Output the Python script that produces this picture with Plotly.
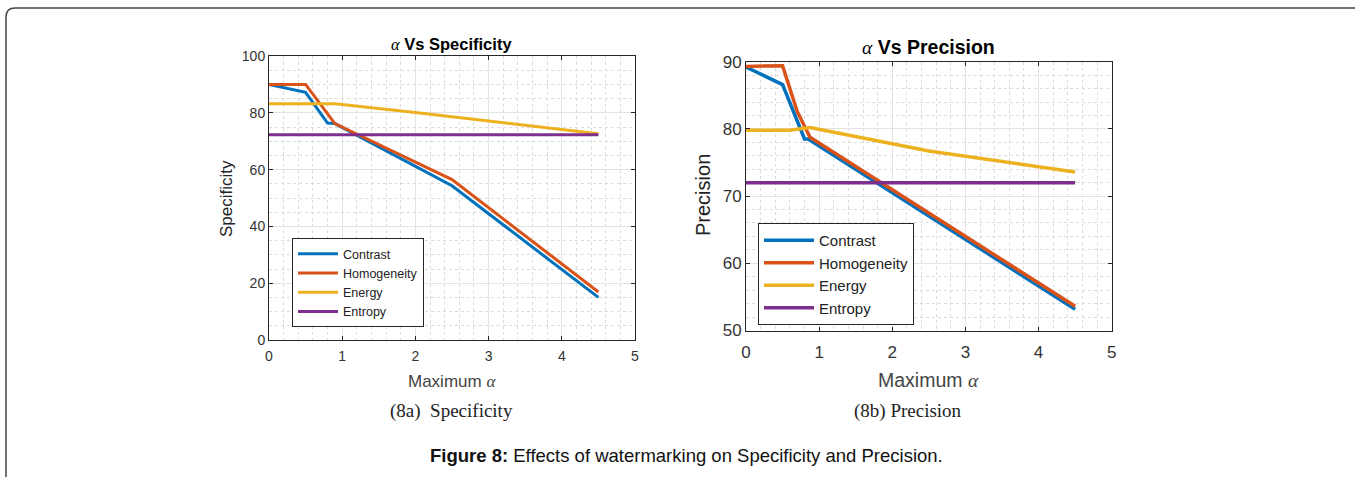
import plotly.graph_objects as go

W, H = 1355, 477

# ---- data: left panel (alpha vs Specificity)
spec_contrast_x = [0, 0.5, 0.7, 0.8, 0.9, 2.5, 4.5]
spec_contrast_y = [90, 87.2, 80, 76.4, 76.2, 54.3, 15.0]
spec_homog_x = [0, 0.5, 0.9, 2.5, 4.5]
spec_homog_y = [90, 90, 76.2, 56.5, 16.9]
spec_energy_x = [0, 0.9, 2, 3, 4, 4.5]
spec_energy_y = [83.2, 83.2, 80.1, 77.2, 74.3, 72.6]
spec_entropy_x = [0, 4.5]
spec_entropy_y = [72.3, 72.3]

# ---- data: right panel (alpha vs Precision)
prec_contrast_x = [0, 0.5, 0.8, 0.85, 4.5]
prec_contrast_y = [89.2, 86.6, 78.5, 78.5, 53.15]
prec_homog_x = [0, 0.5, 0.7, 0.875, 4.5]
prec_homog_y = [89.3, 89.4, 82.6, 78.75, 53.6]
prec_energy_x = [0, 0.6, 0.875, 1.5, 2.5, 4.5]
prec_energy_y = [79.8, 79.8, 80.2, 78.9, 76.7, 73.6]
prec_entropy_x = [0, 4.5]
prec_entropy_y = [72.0, 72.0]

series_names = ["Contrast", "Homogeneity", "Energy", "Entropy"]
colors = ["#0072BD", "#D95319", "#EDB120", "#7E2F8E"]

left_data = [(spec_contrast_x, spec_contrast_y), (spec_homog_x, spec_homog_y),
             (spec_energy_x, spec_energy_y), (spec_entropy_x, spec_entropy_y)]
right_data = [(prec_contrast_x, prec_contrast_y), (prec_homog_x, prec_homog_y),
              (prec_energy_x, prec_energy_y), (prec_entropy_x, prec_entropy_y)]

FONT = "Liberation Sans, Arial, sans-serif"
SERIF = "Liberation Serif, Times New Roman, serif"
AX = "#262626"

def px(x):
    return x / W

def py(y):
    return 1 - y / H

fig = go.Figure()

for i, (xs, ys) in enumerate(left_data):
    fig.add_trace(go.Scatter(x=xs, y=ys, mode="lines", name=series_names[i],
                             line=dict(color=colors[i], width=3),
                             xaxis="x", yaxis="y", legend="legend", showlegend=True))
for i, (xs, ys) in enumerate(right_data):
    fig.add_trace(go.Scatter(x=xs, y=ys, mode="lines", name=series_names[i],
                             line=dict(color=colors[i], width=3.5),
                             xaxis="x2", yaxis="y2", legend="legend2", showlegend=True))

def axis_common(size):
    return dict(showline=True, linecolor=AX, linewidth=1, mirror="allticks",
                ticks="inside", ticklen=4, tickcolor=AX, showgrid=True,
                gridcolor="#e3e3e3", gridwidth=1, zeroline=False, automargin=False,
                tickfont=dict(family=FONT, size=size, color="#333"))

xl = axis_common(14)
xl.update(domain=[px(269), px(635)], range=[0, 5], dtick=1, anchor="y", ticklabelstandoff=3,
          minor=dict(dtick=0.2, showgrid=True, griddash="dot", gridcolor="#dcdcdc", ticks=""))
yl = axis_common(14)
yl.update(domain=[py(340), py(56)], range=[0, 100], dtick=20, anchor="x",
          minor=dict(dtick=5, showgrid=True, griddash="dot", gridcolor="#dcdcdc", ticks=""))
xr = axis_common(17)
xr.update(domain=[px(746), px(1111.7)], range=[0, 5], dtick=1, anchor="y2", ticklabelstandoff=6,
          minor=dict(dtick=0.2, showgrid=True, griddash="dot", gridcolor="#dcdcdc", ticks=""))
yr = axis_common(17)
yr.update(domain=[py(330.5), py(61.7)], range=[50, 90], dtick=10, anchor="x2",
          minor=dict(dtick=2, showgrid=True, griddash="dot", gridcolor="#dcdcdc", ticks=""))

fig.update_layout(
    template="none",
    width=W, height=H, margin=dict(l=0, r=0, t=0, b=0, pad=0), autosize=False,
    paper_bgcolor="white", plot_bgcolor="white",
    xaxis=xl, yaxis=yl, xaxis2=xr, yaxis2=yr,
    legend=dict(x=px(292), y=py(238), xanchor="left", yanchor="top",
                bgcolor="white", bordercolor=AX, borderwidth=1,
                font=dict(family=FONT, size=12.5, color="#222"),
                itemwidth=40, tracegroupgap=0),
    legend2=dict(x=px(758), y=py(223), xanchor="left", yanchor="top",
                 bgcolor="white", bordercolor=AX, borderwidth=1,
                 font=dict(family=FONT, size=15, color="#222"),
                 itemwidth=50, tracegroupgap=0),
)

ann = [
    dict(x=px(452), y=py(44), text='<span style="font-family:' + SERIF + '"><i>α</i></span><b> Vs Specificity</b>',
         font=dict(family=FONT, size=16.5, color="black")),
    dict(x=px(928), y=py(47), text='<span style="font-family:' + SERIF + '"><i>α</i></span><b> Vs Precision</b>',
         font=dict(family=FONT, size=19.5, color="black")),
    dict(x=px(452), y=py(381), text='Maximum <span style="font-family:' + SERIF + '"><i>α</i></span>',
         font=dict(family=FONT, size=17, color="#444")),
    dict(x=px(928), y=py(380), text='Maximum <span style="font-family:' + SERIF + '"><i>α</i></span>',
         font=dict(family=FONT, size=19.5, color="#444")),
    dict(x=px(226), y=py(198), text="Specificity", textangle=-90,
         font=dict(family=FONT, size=17, color="#222")),
    dict(x=px(703), y=py(195), text="Precision", textangle=-90,
         font=dict(family=FONT, size=20, color="#222")),
    dict(x=px(452), y=py(411), text="(8a)  Specificity",
         font=dict(family=SERIF, size=19, color="#222")),
    dict(x=px(908), y=py(411), text="(8b) Precision",
         font=dict(family=SERIF, size=19, color="#222")),
    dict(x=px(686), y=py(455), text="<b>Figure 8:</b> Effects of watermarking on Specificity and Precision.",
         font=dict(family=FONT, size=18.5, color="#111")),
]
for a in ann:
    a.update(xref="paper", yref="paper", showarrow=False, xanchor="center", yanchor="middle")
fig.update_layout(annotations=ann)

# rounded outer frame
path = "M {x0},{yb} L {x0},{y1} Q {x0},{yt} {x2},{yt} L {xe},{yt}".format(
    x0=px(6), yb=py(490), y1=py(17), yt=py(8), x2=px(15), xe=px(1360))
fig.add_shape(type="path", path=path, xref="paper", yref="paper",
              line=dict(color="#444", width=1.5))

fig.write_html("out.html", config={"displayModeBar": False},
               post_script="document.body.style.margin='0';document.body.style.overflow='hidden';")
